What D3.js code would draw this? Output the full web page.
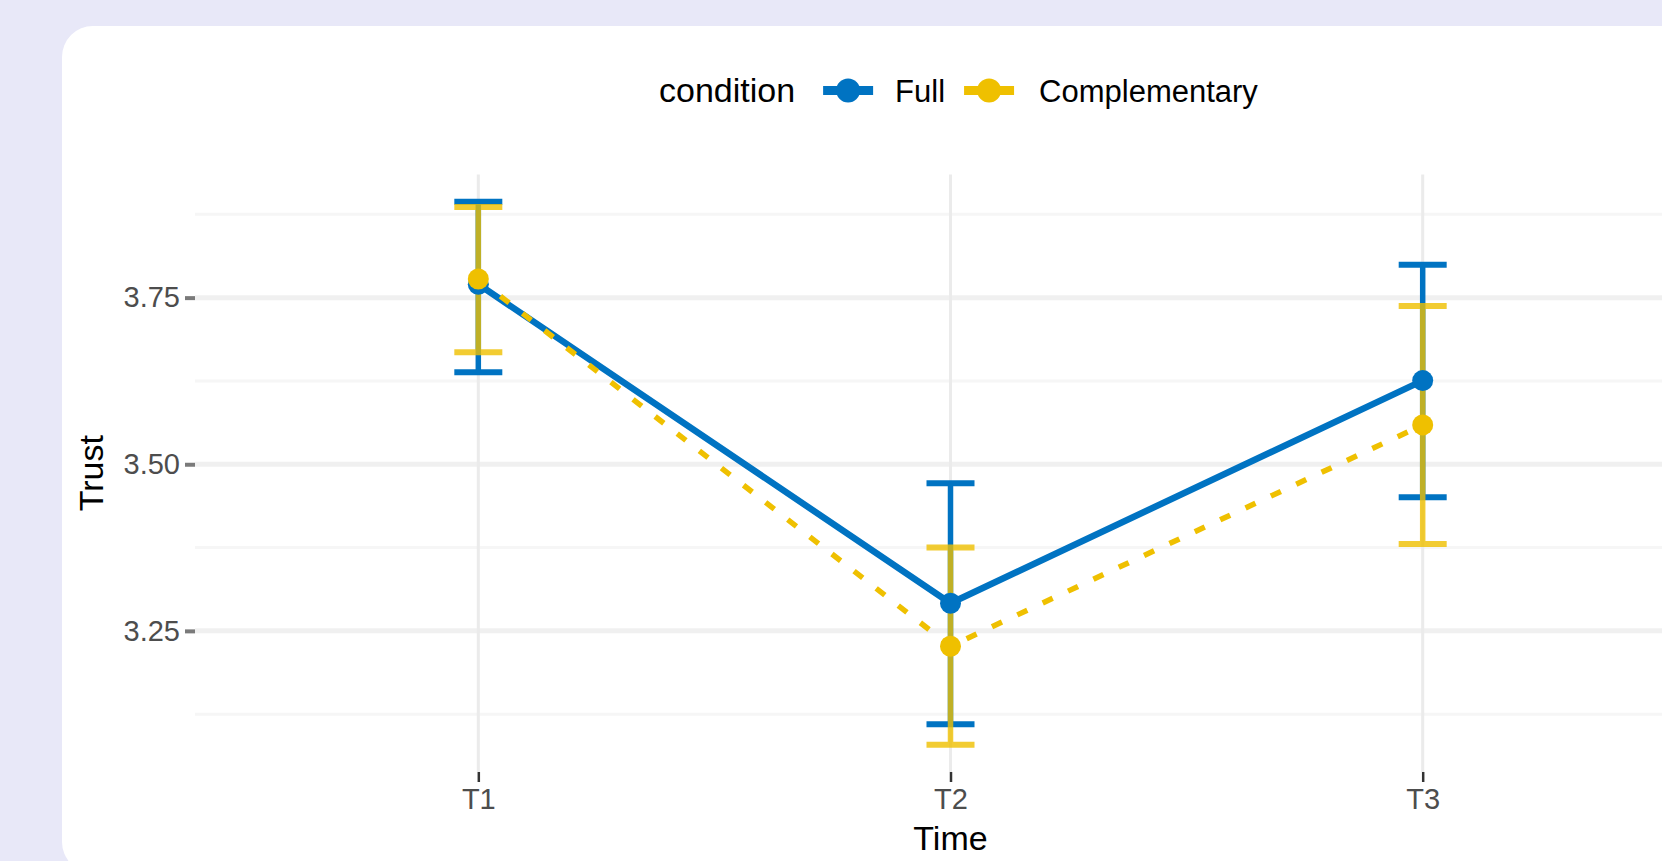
<!DOCTYPE html>
<html>
<head>
<meta charset="utf-8">
<script src="https://cdn.jsdelivr.net/npm/d3@7"></script>
<style>
  html, body { margin: 0; padding: 0; background: #e8e8f8; overflow: hidden; }
  svg { display: block; font-family: 'Liberation Sans', Arial, sans-serif; }
</style>
</head>
<body>
<div class="canvas"></div>
<script>
// data
const times = ['T1', 'T2', 'T3']
const conditions = ['Full', 'Complementary']
const fullMean = [3.770, 3.2915, 3.6255]
const fullLower = [3.638, 3.110, 3.4505]
const fullUpper = [3.894, 3.4715, 3.7995]
const compMean = [3.778, 3.227, 3.559]
const compLower = [3.668, 3.079, 3.3805]
const compUpper = [3.886, 3.375, 3.7375]
const yTicks = [3.25, 3.5, 3.75]
const yMinorTicks = [3.125, 3.375, 3.625, 3.875]

const colors = { Full: '#0073C2', Complementary: '#EFC000' }

const series = [
  { name: 'Full', mean: fullMean, lower: fullLower, upper: fullUpper },
  { name: 'Complementary', mean: compMean, lower: compLower, upper: compUpper },
].map((s) => ({
  name: s.name,
  values: times.map((t, i) => ({ time: t, mean: s.mean[i], lower: s.lower[i], upper: s.upper[i] })),
}))

const dims = { width: 1662, height: 861 }
const panel = { left: 195, right: 1706, top: 174.5, bottom: 772 }

const svg = d3
  .select('.canvas')
  .append('svg')
  .attr('width', dims.width)
  .attr('height', dims.height)

// white card behind the plot
svg
  .append('rect')
  .attr('x', 62)
  .attr('y', 26)
  .attr('width', 1700)
  .attr('height', 847)
  .attr('rx', 31)
  .attr('fill', '#ffffff')

// scales: discrete x with ggplot's 0.6 expansion, y with 5% expansion
const x = d3.scalePoint().domain(times).range([panel.left, panel.right]).padding(0.6)

const allVals = series.flatMap((s) => s.values.flatMap((d) => [d.lower, d.upper]))
const lo = d3.min(allVals)
const hi = d3.max(allVals)
const pad = (hi - lo) * 0.05
const y = d3.scaleLinear().domain([lo - pad, hi + pad]).range([panel.bottom, panel.top])

// grid
const grid = svg.append('g')
grid
  .selectAll('.minor')
  .data(yMinorTicks)
  .enter()
  .append('line')
  .attr('x1', panel.left)
  .attr('x2', panel.right)
  .attr('y1', (d) => y(d))
  .attr('y2', (d) => y(d))
  .attr('stroke', '#f6f6f6')
  .attr('stroke-width', 3)
grid
  .selectAll('.major')
  .data(yTicks)
  .enter()
  .append('line')
  .attr('x1', panel.left)
  .attr('x2', panel.right)
  .attr('y1', (d) => y(d))
  .attr('y2', (d) => y(d))
  .attr('stroke', '#f0f0f0')
  .attr('stroke-width', 5)
grid
  .selectAll('.vert')
  .data(times)
  .enter()
  .append('line')
  .attr('x1', (d) => x(d))
  .attr('x2', (d) => x(d))
  .attr('y1', panel.top)
  .attr('y2', panel.bottom)
  .attr('stroke', '#ebebeb')
  .attr('stroke-width', 3)

// axes
const yAxis = svg
  .append('g')
  .attr('transform', `translate(${panel.left},0)`)
  .call(d3.axisLeft(y).tickValues(yTicks).tickFormat(d3.format('.2f')).tickSize(10).tickPadding(5))
yAxis.select('.domain').remove()
yAxis.selectAll('line').attr('stroke', '#7a7a7a').attr('stroke-width', 4)
yAxis.selectAll('text').attr('fill', '#4d4d4d').style('font-size', '29px')

const xAxis = svg
  .append('g')
  .attr('transform', `translate(0,${panel.bottom})`)
  .call(d3.axisBottom(x).tickSize(10).tickPadding(6))
xAxis.select('.domain').remove()
xAxis.selectAll('line').attr('stroke', '#333333').attr('stroke-width', 2.5)
xAxis.selectAll('text').attr('fill', '#4d4d4d').style('font-size', '29px')

// axis titles
svg
  .append('text')
  .attr('x', (panel.left + panel.right) / 2)
  .attr('y', 850)
  .attr('text-anchor', 'middle')
  .style('font-size', '34px')
  .attr('fill', '#000')
  .text('Time')

svg
  .append('text')
  .attr('transform', `translate(103,${(panel.top + panel.bottom) / 2}) rotate(-90)`)
  .attr('text-anchor', 'middle')
  .style('font-size', '34px')
  .attr('fill', '#000')
  .text('Trust')

// error bars
const capHalf = 24
const bars = svg
  .selectAll('.errbar')
  .data(series)
  .enter()
  .append('g')
  .attr('opacity', (d) => (d.name === 'Complementary' ? 0.8 : 1))
  .attr('stroke', (d) => colors[d.name])

bars.each(function (s) {
  const g = d3.select(this)
  g.selectAll('.v')
    .data(s.values)
    .enter()
    .append('line')
    .attr('x1', (d) => x(d.time))
    .attr('x2', (d) => x(d.time))
    .attr('y1', (d) => y(d.lower))
    .attr('y2', (d) => y(d.upper))
    .attr('stroke-width', 5.5)
  g.selectAll('.cap')
    .data(s.values.flatMap((d) => [{ time: d.time, v: d.lower }, { time: d.time, v: d.upper }]))
    .enter()
    .append('line')
    .attr('x1', (d) => x(d.time) - capHalf)
    .attr('x2', (d) => x(d.time) + capHalf)
    .attr('y1', (d) => y(d.v))
    .attr('y2', (d) => y(d.v))
    .attr('stroke-width', 6)
})

// lines
const line = d3
  .line()
  .x((d) => x(d.time))
  .y((d) => y(d.mean))

svg
  .selectAll('.series-line')
  .data(series)
  .enter()
  .append('path')
  .attr('d', (d) => line(d.values))
  .attr('fill', 'none')
  .attr('stroke', (d) => colors[d.name])
  .attr('stroke-width', (d) => (d.name === 'Full' ? 6.5 : 5.5))
  .attr('stroke-dasharray', (d) => (d.name === 'Full' ? null : '11,17'))

// points
series.forEach((s) => {
  svg
    .append('g')
    .selectAll('circle')
    .data(s.values)
    .enter()
    .append('circle')
    .attr('cx', (d) => x(d.time))
    .attr('cy', (d) => y(d.mean))
    .attr('r', 10.5)
    .attr('fill', colors[s.name])
})

// legend, laid out left to right
const legend = svg.append('g')
const legendY = 102
const keyY = 90.5
const title = legend
  .append('text')
  .attr('x', 659)
  .attr('y', legendY)
  .style('font-size', '34px')
  .attr('fill', '#000')
  .text('condition')

let cursor = 659 + title.node().getComputedTextLength()
conditions.forEach((c, i) => {
  const kx = cursor + (i === 0 ? 53 : 44)
  legend
    .append('line')
    .attr('x1', kx - 25)
    .attr('x2', kx + 25)
    .attr('y1', keyY)
    .attr('y2', keyY)
    .attr('stroke', colors[c])
    .attr('stroke-width', 9)
  legend
    .append('circle')
    .attr('cx', kx)
    .attr('cy', keyY)
    .attr('r', 12)
    .attr('fill', colors[c])
  const lx = kx + (i === 0 ? 47 : 50)
  const lbl = legend
    .append('text')
    .attr('x', lx)
    .attr('y', legendY)
    .style('font-size', '31px')
    .attr('fill', '#000')
    .text(c)
  cursor = lx + lbl.node().getComputedTextLength()
})
</script>
</body>
</html>
